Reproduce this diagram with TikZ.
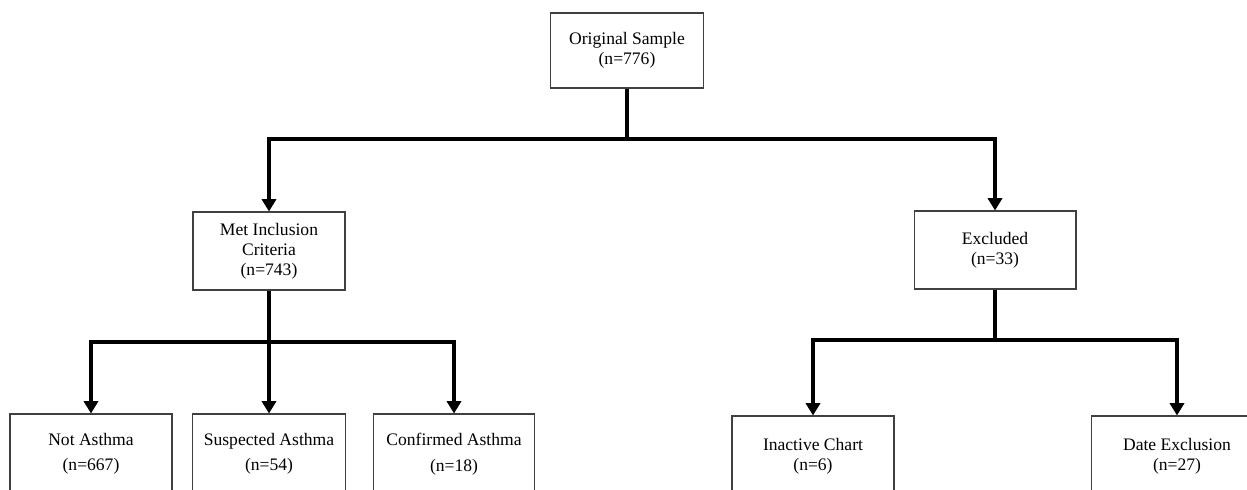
\documentclass[tikz,border=0pt]{standalone}
\usepackage{fontspec}
\setmainfont{Liberation Serif}
\usetikzlibrary{arrows.meta}

\begin{document}
\begin{tikzpicture}[x=0.02cm, y=-0.02cm,
    box/.style={rectangle, draw=black!75, line width=0.6pt, fill=white, align=center,
        font=\fontsize{10}{11.5}\selectfont, inner sep=2pt},
    conn/.style={line width=2.3pt, line join=miter},
    arr/.style={conn, -{Triangle[length=7pt, width=8pt]}}]
    \useasboundingbox (0,0) rectangle (1247,490);
    \clip (0,0) rectangle (1247,490);

    % Draw nodes
    \node[box, minimum width=3.06cm, minimum height=1.5cm] (orig) at (627,50.5) {Original Sample\\(n=776)};
    \node[box, minimum width=3.04cm, minimum height=1.56cm] (met) at (269,251) {Met Inclusion\\Criteria\\(n=743)};
    \node[box, minimum width=3.24cm, minimum height=1.56cm] (excl) at (995,250) {Excluded\\(n=33)};
    \node[box, minimum width=3.24cm, minimum height=1.6cm] (notasth) at (91,454) {Not Asthma\\[3pt](n=667)};
    \node[box, minimum width=3.06cm, minimum height=1.6cm] (susp) at (269,454) {Suspected Asthma\\[3pt](n=54)};
    \node[box, minimum width=3.22cm, minimum height=1.6cm] (conf) at (454,454) {Confirmed Asthma\\[3pt](n=18)};
    \node[box, minimum width=3.24cm, minimum height=1.6cm] (inact) at (813,456) {Inactive Chart\\(n=6)};
    \node[box, minimum width=3.44cm, minimum height=1.6cm] (date) at (1177,456) {Date Exclusion\\(n=27)};

    % Draw connections
    \coordinate (split) at (627,139);
    \draw[conn] (orig) -- (split);
    \draw[arr] (split) -| (met);
    \draw[arr] (split) -| (excl);

    \coordinate (msplit) at (269,342);
    \draw[conn] (met) -- (msplit);
    \draw[arr] (msplit) -| (notasth);
    \draw[arr] (msplit) -| (susp);
    \draw[arr] (msplit) -| (conf);

    \coordinate (esplit) at (995,340);
    \draw[conn] (excl) -- (esplit);
    \draw[arr] (esplit) -| (inact);
    \draw[arr] (esplit) -| (date);
\end{tikzpicture}
\end{document}
